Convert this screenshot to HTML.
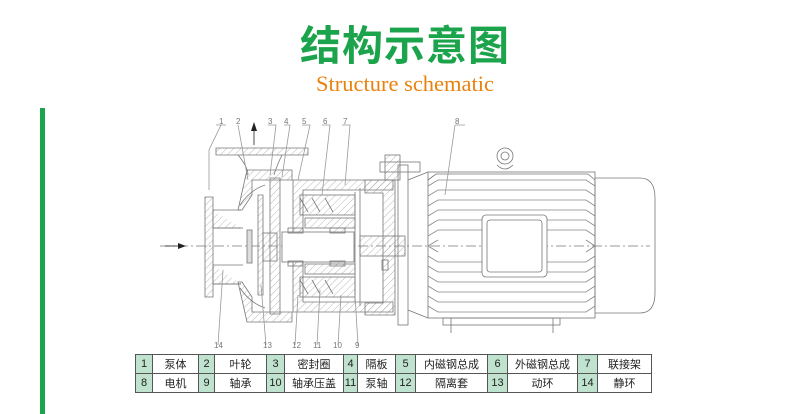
<!DOCTYPE html>
<html><head><meta charset="utf-8"><style>
html,body{margin:0;padding:0;background:#fff;}
body{width:810px;height:414px;position:relative;overflow:hidden;font-family:"Liberation Sans","Noto Sans CJK SC",sans-serif;}
.t1{position:absolute;left:0;width:810px;top:16px;text-align:center;font-family:"Noto Sans CJK SC",sans-serif;font-weight:bold;font-size:41px;color:#1ca44c;line-height:52px;letter-spacing:1px;}
.t2{position:absolute;left:0;width:810px;top:71px;text-align:center;font-family:"Liberation Serif",serif;font-size:22.5px;color:#e8820f;}
.bar{position:absolute;left:40px;top:108px;width:5px;height:306px;background:#1ca44c;}
table{position:absolute;left:135px;top:354px;border-collapse:collapse;font-size:11px;color:#222;}
td{border:1px solid #555;height:18px;padding:0;text-align:center;}
td.n{background:#bfe3cf;}
</style></head><body>
<div class="t1">结构示意图</div>
<div class="t2">Structure schematic</div>
<div class="bar"></div>
<svg width="810" height="414" style="position:absolute;left:0;top:0" fill="none" stroke="#777" stroke-width="0.8">
<defs><pattern id="h" width="5" height="5" patternUnits="userSpaceOnUse" patternTransform="rotate(45)"><line x1="0" y1="0" x2="0" y2="5" stroke="#999" stroke-width="0.7"/></pattern></defs>
<line x1="160" y1="246" x2="650" y2="246" stroke-dasharray="10,3,2,3"/>
<polygon points="178,243 186,246 178,249" fill="#222" stroke="none"/>
<line x1="165" y1="246" x2="180" y2="246" stroke="#222"/>
<line x1="254" y1="128" x2="254" y2="145" stroke="#222"/>
<polygon points="251,131 254,122 257,131" fill="#222" stroke="none"/>
<path d="M205,197 h8 v100 h-8 z" fill="url(#h)"/>
<path d="M213,210 h28 M213,284 h28 M213,228 h30 M213,265 h30"/>
<path d="M213,210 v18 h28 M213,265 v19 h28" fill="url(#h)"/>
<path d="M216,148 h92 v7 h-92 z" fill="url(#h)"/>
<path d="M238,155 q10,12 10,20 M282,155 q-5,10 -8,20"/>
<path d="M247,170 h45 v10 h-40 v15 l-10,15 h-4 z" fill="url(#h)"/>
<path d="M247,322 h45 v-10 h-40 v-15 l-10,-15 h-4 z" fill="url(#h)"/>
<path d="M240,205 q10,-15 25,-20 M240,288 q10,15 25,20"/>
<path d="M258,195 v100 h5 v-100 z" fill="url(#h)"/>
<rect x="247" y="230" width="5" height="33" fill="#ddd"/>
<rect x="263" y="233" width="14" height="28" fill="url(#h)"/>
<path d="M270,178 h10 v136 h-10 z" fill="url(#h)"/>
<path d="M293,180 h100 v10 h-90 v112 h90 v10 h-100 z" fill="url(#h)"/>
<rect x="300" y="195" width="55" height="20" fill="url(#h)"/>
<rect x="300" y="277" width="55" height="20" fill="url(#h)"/>
<path d="M300,198 l8,14 M312,198 l8,14 M325,198 l8,14 M300,280 l8,14 M312,280 l8,14 M325,280 l8,14"/>
<rect x="305" y="218" width="50" height="10" fill="url(#h)"/>
<rect x="305" y="264" width="50" height="10" fill="url(#h)"/>
<path d="M355,192 v110 M360,188 v118" />
<rect x="282" y="232" width="72" height="30" fill="#fff"/>
<rect x="288" y="228" width="15" height="5" fill="url(#h)"/>
<rect x="330" y="228" width="15" height="5" fill="url(#h)"/>
<rect x="288" y="261" width="15" height="5" fill="url(#h)"/>
<rect x="330" y="261" width="15" height="5" fill="url(#h)"/>
<path d="M365,180 h30 v135 h-30 v-12 h18 v-110 h-18 z" fill="url(#h)"/>
<rect x="360" y="236" width="45" height="20" fill="url(#h)"/>
<rect x="382" y="260" width="6" height="10"/>
<rect x="385" y="155" width="15" height="25" fill="url(#h)"/>
<rect x="380" y="162" width="40" height="10"/>
<rect x="398" y="165" width="10" height="160"/>
<path d="M408,180 l20,-8 M408,310 l20,8"/>
<rect x="428" y="172" width="167" height="146"/>
<path d="M428,180 l8,-6 h152 l7,6 M595,180 v130"/>
<g stroke="#888">
<path d="M428,186 l10,-6 h148 l9,6 M428,196 l10,-6 h148 l9,6 M428,206 l10,-6 h148 l9,6 M428,216 l10,-6 h148 l9,6 M428,226 l10,-6 h148 l9,6 M428,236 l10,-6 h148 l9,6"/>
<path d="M428,256 l10,6 h148 l9,-6 M428,266 l10,6 h148 l9,-6 M428,276 l10,6 h148 l9,-6 M428,286 l10,6 h148 l9,-6 M428,296 l10,6 h148 l9,-6 M428,306 l10,6 h148 l9,-6"/>
<path d="M428,246 l10,-6 M428,246 l10,6 M595,246 l-9,-6 M595,246 l-9,6"/>
</g>
<rect x="482" y="215" width="65" height="62" rx="4" fill="#fff"/>
<rect x="487" y="220" width="55" height="52" rx="3" fill="#fff"/>
<circle cx="505" cy="156" r="8"/><circle cx="505" cy="156" r="4"/>
<path d="M497,165 q8,8 16,0"/>
<path d="M595,178 h45 q15,0 15,20 v95 q0,20 -15,20 h-45"/>
<rect x="443" y="318" width="117" height="7"/>
<path d="M451,318 v15 M553,318 v15"/>
<g stroke="#999">
<path d="M216,125 h10 M221,125 l-12,25 v40 M238,125 l10,55 M268,125 h8 l-6,50 M284,125 h6 l-8,52 M302,125 h8 l-12,55 M322,125 h8 l-8,70 M342,125 h8 l-5,60"/>
<path d="M455,125 h10 M455,125 l-10,70"/>
<path d="M218,345 l5,-75 M266,345 l-5,-60 M295,345 l3,-50 M317,345 l3,-55 M338,345 l3,-50 M358,345 l-3,-50"/>
</g>
</svg>
<div style="position:absolute;font-size:8px;color:#777;top:117px;left:219px">1</div>
<div style="position:absolute;font-size:8px;color:#777;top:117px;left:236px">2</div>
<div style="position:absolute;font-size:8px;color:#777;top:117px;left:268px">3</div>
<div style="position:absolute;font-size:8px;color:#777;top:117px;left:284px">4</div>
<div style="position:absolute;font-size:8px;color:#777;top:117px;left:302px">5</div>
<div style="position:absolute;font-size:8px;color:#777;top:117px;left:323px">6</div>
<div style="position:absolute;font-size:8px;color:#777;top:117px;left:343px">7</div>
<div style="position:absolute;font-size:8px;color:#777;top:117px;left:455px">8</div>
<div style="position:absolute;font-size:8px;color:#777;top:341px;left:214px">14</div>
<div style="position:absolute;font-size:8px;color:#777;top:341px;left:263px">13</div>
<div style="position:absolute;font-size:8px;color:#777;top:341px;left:292px">12</div>
<div style="position:absolute;font-size:8px;color:#777;top:341px;left:313px">11</div>
<div style="position:absolute;font-size:8px;color:#777;top:341px;left:333px">10</div>
<div style="position:absolute;font-size:8px;color:#777;top:341px;left:355px">9</div>
<table>
<tr><td class="n" style="width:16px">1</td><td style="width:45px">泵体</td><td class="n" style="width:15px">2</td><td style="width:51px">叶轮</td><td class="n" style="width:17px">3</td><td style="width:58px">密封圈</td><td class="n" style="width:13px">4</td><td style="width:37px">隔板</td><td class="n" style="width:19px">5</td><td style="width:71px">内磁钢总成</td><td class="n" style="width:19px">6</td><td style="width:69px">外磁钢总成</td><td class="n" style="width:19px">7</td><td style="width:53px">联接架</td></tr>
<tr><td class="n">8</td><td>电机</td><td class="n">9</td><td>轴承</td><td class="n">10</td><td>轴承压盖</td><td class="n">11</td><td>泵轴</td><td class="n">12</td><td>隔离套</td><td class="n">13</td><td>动环</td><td class="n">14</td><td>静环</td></tr>
</table>
</body></html>
